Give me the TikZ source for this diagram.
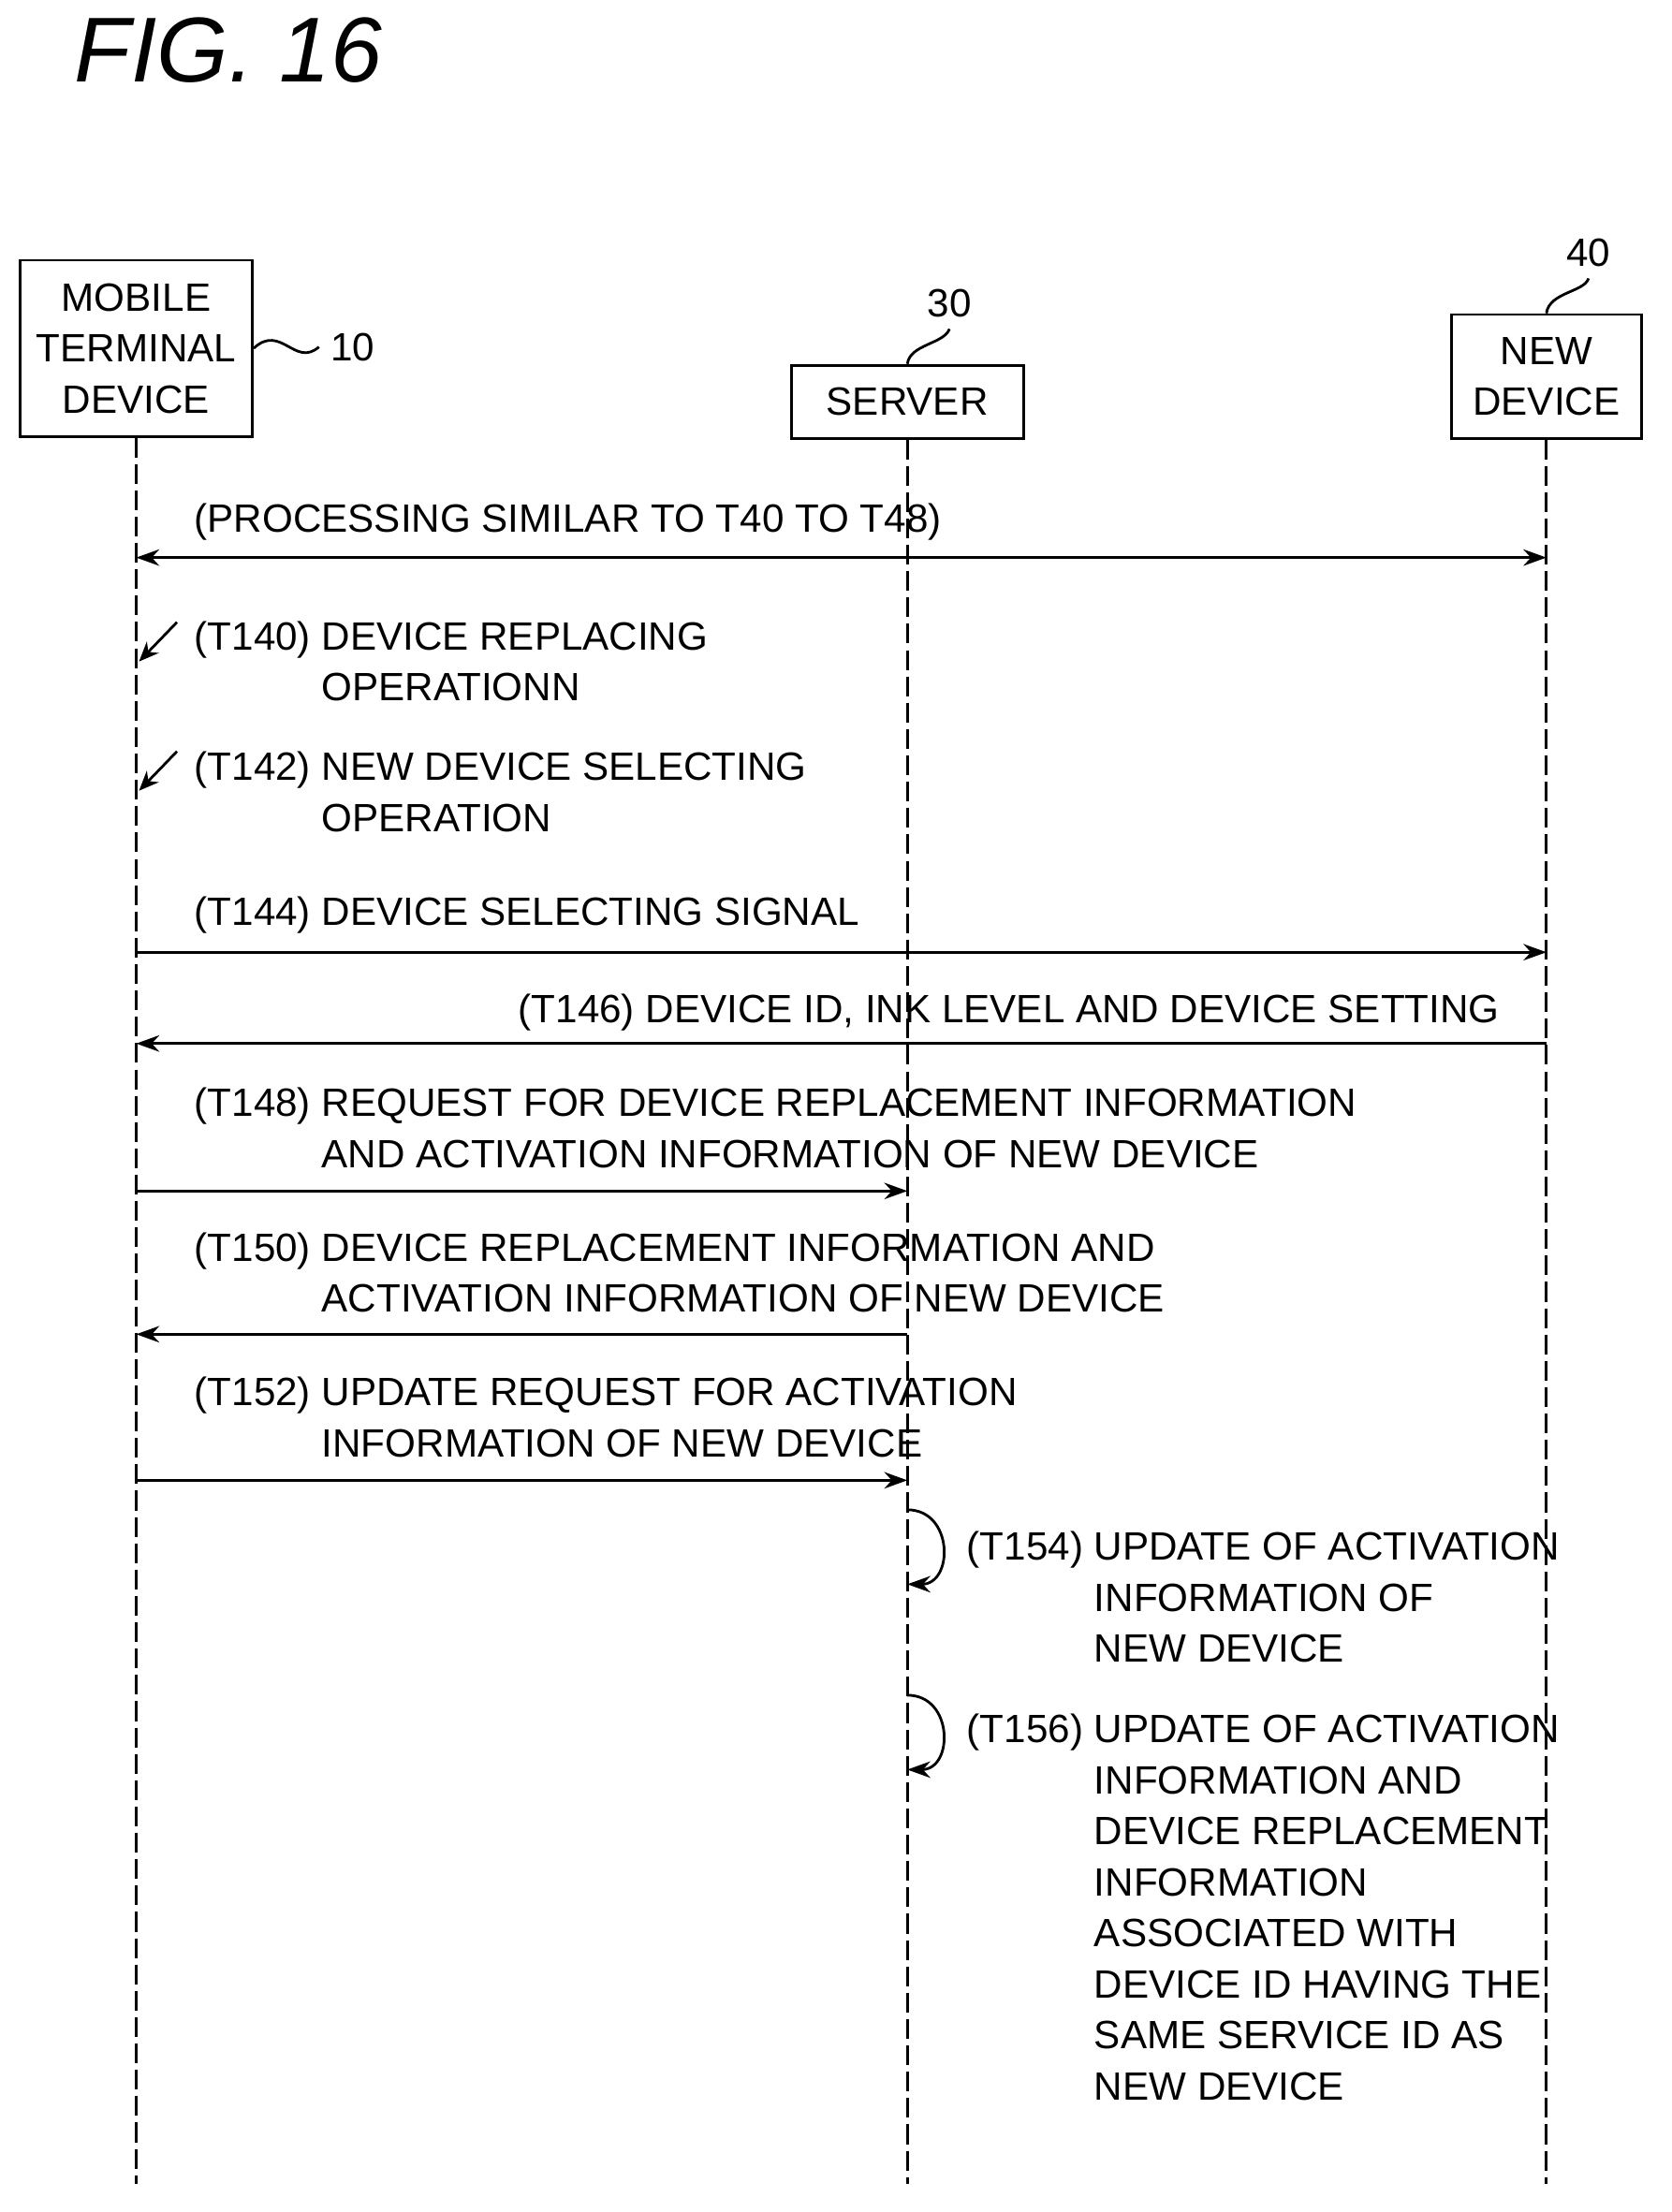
\documentclass[tikz,border=0pt]{standalone}
\usepackage{fontspec}
\setmainfont{Liberation Sans}
\usetikzlibrary{arrows.meta}
\begin{document}
\begin{tikzpicture}[x=0.015cm, y=-0.015cm,
  font=\fontsize{12}{15.5}\selectfont,
  box/.style={draw, thick, inner sep=0pt, align=center},
  life/.style={draw, thick, dashed, dash pattern=on 6pt off 2pt},
  msg/.style={draw, thick, -{Stealth[length=7pt,width=5pt]}},
  txt/.style={anchor=north west, inner sep=0pt, align=left},
  opmark/.style={draw, thick, -{Stealth[length=6pt,width=5pt]}},
  squig/.style={draw, thick}
]
\newcommand{\ind}{\hspace*{1.36cm}}
\useasboundingbox (0,0) rectangle (1190,1575);

\node [font=\itshape\fontsize{28}{28}\selectfont, anchor=base west] (fig) at (45,58) {FIG. 16};

% participants
\node [box, minimum width=2.48cm, minimum height=1.88cm] (mtd) at (97,248) {MOBILE\\TERMINAL\\DEVICE};
\node [box, minimum width=2.48cm, minimum height=0.78cm] (srv) at (646,286) {SERVER};
\node [box, minimum width=2.03cm, minimum height=1.32cm] (new) at (1101,268) {NEW\\DEVICE};

\node (n10) at (251,247) {10};
\node (n30) at (676,216) {30};
\node (n40) at (1131,180) {40};
\draw [squig] (mtd.east) .. controls (200,230) and (210,262) .. (n10.west);
\draw [squig] (srv.north) .. controls (648,245) and (672,245) .. (n30.south);
\draw [squig] (new.north) .. controls (1103,208) and (1128,208) .. (n40.south);

% lifelines
\coordinate (mtd-end) at (97,1555);
\coordinate (srv-end) at (646,1555);
\coordinate (new-end) at (1101,1555);
\path [life] (mtd.south) -- (mtd-end);
\path [life] (srv.south) -- (srv-end);
\path [life] (new.south) -- (new-end);

% messages
\coordinate (m0a) at (97,397);  \coordinate (m0b) at (1101,397);
\path [msg, {Stealth[length=7pt,width=5pt]}-{Stealth[length=7pt,width=5pt]}] (m0a) -- (m0b);
\node [txt] (t0) at (138,358) {(PROCESSING SIMILAR TO T40 TO T48)};

\coordinate (k1a) at (126,443); \coordinate (k1b) at (99,471);
\path [opmark] (k1a) -- (k1b);
\node [txt] (t140) at (138,442) {(T140) DEVICE REPLACING\\\ind OPERATIONN};

\coordinate (k2a) at (126,535); \coordinate (k2b) at (99,563);
\path [opmark] (k2a) -- (k2b);
\node [txt] (t142) at (138,535) {(T142) NEW DEVICE SELECTING\\\ind OPERATION};

\coordinate (m1a) at (97,678); \coordinate (m1b) at (1101,678);
\path [msg] (m1a) -- (m1b);
\node [txt] (t144) at (138,638) {(T144) DEVICE SELECTING SIGNAL};

\coordinate (m2a) at (1101,743); \coordinate (m2b) at (97,743);
\path [msg] (m2a) -- (m2b);
\node [txt, anchor=north east] (t146) at (1068,707) {(T146) DEVICE ID, INK LEVEL AND DEVICE SETTING};

\coordinate (m3a) at (97,848); \coordinate (m3b) at (646,848);
\path [msg] (m3a) -- (m3b);
\node [txt] (t148) at (138,774) {(T148) REQUEST FOR DEVICE REPLACEMENT INFORMATION\\\ind AND ACTIVATION INFORMATION OF NEW DEVICE};

\coordinate (m4a) at (646,950); \coordinate (m4b) at (97,950);
\path [msg] (m4a) -- (m4b);
\node [txt] (t150) at (138,877) {(T150) DEVICE REPLACEMENT INFORMATION AND\\\ind ACTIVATION INFORMATION OF NEW DEVICE};

\coordinate (m5a) at (97,1054); \coordinate (m5b) at (646,1054);
\path [msg] (m5a) -- (m5b);
\node [txt] (t152) at (138,980) {(T152) UPDATE REQUEST FOR ACTIVATION\\\ind INFORMATION OF NEW DEVICE};

% self loops
\coordinate (s1a) at (646,1075); \coordinate (s1b) at (646,1128);
\path [msg] (s1a) to [out=0, in=0, looseness=1.6] (s1b);
\node [txt] (t154) at (688,1090) {(T154) UPDATE OF ACTIVATION\\\ind INFORMATION OF\\\ind NEW DEVICE};

\coordinate (s2a) at (646,1207); \coordinate (s2b) at (646,1260);
\path [msg] (s2a) to [out=0, in=0, looseness=1.6] (s2b);
\node [txt] (t156) at (688,1220) {(T156) UPDATE OF ACTIVATION\\\ind INFORMATION AND\\\ind DEVICE REPLACEMENT\\\ind INFORMATION\\\ind ASSOCIATED WITH\\\ind DEVICE ID HAVING THE\\\ind SAME SERVICE ID AS\\\ind NEW DEVICE};
\end{tikzpicture}
\end{document}
